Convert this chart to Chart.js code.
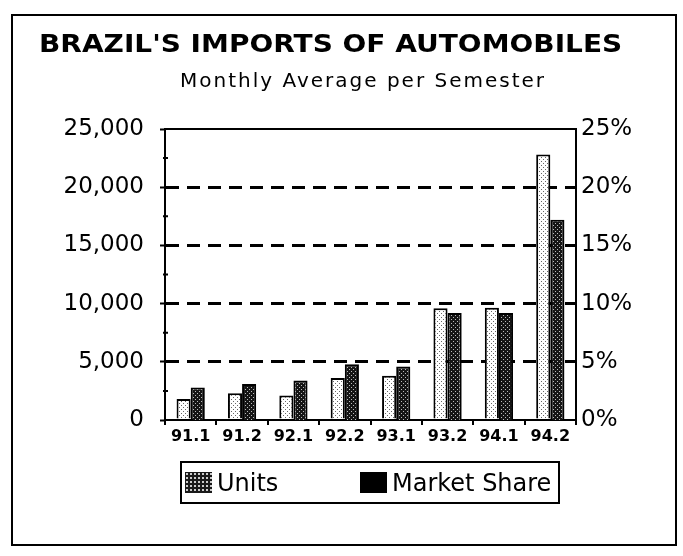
<!DOCTYPE html>
<html>
<head>
<meta charset="utf-8">
<script src="https://cdn.jsdelivr.net/npm/chart.js@4.4.1/dist/chart.umd.min.js"></script>
<style>
  body { margin: 0; background: #fff; }
  #wrap { position: relative; width: 683px; height: 556px; overflow: hidden; }
  #chart { position: absolute; left: 0; top: 0; }
  .frame { position: absolute; left: 11px; top: 14px; width: 666px; height: 532px; border: 2px solid #000; box-sizing: border-box; pointer-events: none; }
  #title { position: absolute; left: 39px; top: 32px; font: bold 28px "DejaVu Sans"; line-height: 28px; white-space: nowrap; color: #000; transform: scaleY(0.88); transform-origin: 0 0; }
  #subtitle { position: absolute; left: 180px; top: 70px; font: 20px "DejaVu Sans"; letter-spacing: 2px; line-height: 20px; white-space: nowrap; color: #000; }
  #legend { position: absolute; left: 180px; top: 461px; width: 380px; height: 43px; border: 2px solid #000; box-sizing: border-box; font: 24px "DejaVu Sans"; color: #000; }
  .item { position: absolute; top: 0; height: 39px; display: flex; align-items: center; white-space: nowrap; }
  .swatch { width: 27px; height: 21px; margin-right: 5px; box-sizing: border-box; }
</style>
</head>
<body>
<div id="wrap">
  <canvas id="chart" width="683" height="556"></canvas>
  <div class="frame"></div>
  <div id="title">BRAZIL'S IMPORTS OF AUTOMOBILES</div>
  <div id="subtitle">Monthly Average per Semester</div>
  <div id="legend">
    <div class="item" style="left:3px"><span class="swatch" id="sw1"></span>Units</div>
    <div class="item" style="left:178px"><span class="swatch" id="sw2"></span>Market Share</div>
  </div>
</div>
<script>
const semesters = ["91.1", "91.2", "92.1", "92.2", "93.1", "93.2", "94.1", "94.2"];
const units = [1800, 2300, 2100, 3600, 3800, 9600, 9650, 22800];
const marketShare = [2.8, 3.1, 3.4, 4.8, 4.6, 9.2, 9.2, 17.2];
const unitTicks = [0, 5000, 10000, 15000, 20000, 25000];
const shareTicks = [0, 5, 10, 15, 20, 25];

// dithered fills, like the scanned print
function makePattern(bg, fg) {
  const c = document.createElement("canvas");
  c.width = 4;
  c.height = 4;
  const g = c.getContext("2d");
  g.fillStyle = bg;
  g.fillRect(0, 0, 4, 4);
  g.fillStyle = fg;
  g.fillRect(1, 1, 1, 1);
  g.fillRect(3, 3, 1, 1);
  return g.createPattern(c, "repeat");
}
const lightFill = makePattern("#ffffff", "#666666");
const darkFill = makePattern("#151515", "#bbbbbb");

const sw1 = document.getElementById("sw1");
sw1.style.backgroundColor = "#1a1a1a";
sw1.style.backgroundImage = "radial-gradient(#ccc 0.8px, transparent 1.2px)";
sw1.style.backgroundSize = "4px 4px";
document.getElementById("sw2").style.background = "#000";

// top border of the plot, plus the small minor ticks on the left axis
const frameLines = {
  id: "frameLines",
  afterDraw(chart) {
    const { ctx, chartArea } = chart;
    const y = chart.scales.y;
    const y1 = chart.scales.y1;
    ctx.save();
    ctx.strokeStyle = "#000";
    ctx.lineWidth = 2;
    ctx.beginPath();
    ctx.moveTo(chartArea.left, chartArea.top);
    ctx.lineTo(chartArea.right, chartArea.top);
    for (let i = 0; i < unitTicks.length - 1; i++) {
      const py = y.getPixelForValue((unitTicks[i] + unitTicks[i + 1]) / 2);
      ctx.moveTo(chartArea.left - 2, py);
      ctx.lineTo(chartArea.left + 3, py);
    }
    shareTicks.forEach((v) => {
      const py = y1.getPixelForValue(v);
      ctx.moveTo(chartArea.right - 5, py);
      ctx.lineTo(chartArea.right, py);
    });
    ctx.stroke();
    ctx.restore();
  },
};

const tickFont = { family: "DejaVu Sans", size: 23 };

const config = {
  type: "bar",
  data: {
    labels: semesters,
    datasets: [
      {
        label: "Units",
        data: units,
        yAxisID: "y",
        backgroundColor: lightFill,
        borderColor: "#000",
        borderWidth: 2,
        borderSkipped: "bottom",
      },
      {
        label: "Market Share",
        data: marketShare,
        yAxisID: "y1",
        backgroundColor: darkFill,
        borderColor: "#000",
        borderWidth: 2,
        borderSkipped: "bottom",
      },
    ],
  },
  options: {
    responsive: false,
    animation: false,
    devicePixelRatio: 1,
    categoryPercentage: 0.55,
    barPercentage: 1,
    layout: { padding: { left: 20, right: 20, top: 129, bottom: 20 } },
    plugins: {
      legend: { display: false },
      tooltip: { enabled: false },
    },
    scales: {
      x: {
        grid: { drawOnChartArea: false, color: "#000", lineWidth: 2, tickLength: 5 },
        border: { color: "#000", width: 2 },
        ticks: { color: "#000", padding: 2, font: { family: "DejaVu Sans", size: 16, weight: "bold" } },
        afterFit(scale) {
          scale.height = 116;
        },
      },
      y: {
        position: "left",
        min: 0,
        max: 25000,
        afterBuildTicks(scale) {
          scale.ticks = unitTicks.map((v) => ({ value: v }));
        },
        ticks: {
          color: "#000",
          padding: 16,
          font: tickFont,
          callback: (v) => v.toLocaleString("en-US"),
        },
        grid: {
          lineWidth: 3,
          tickLength: 5,
          tickWidth: 2,
          tickColor: "#000",
          color: (ctx) => (ctx.tick && (ctx.tick.value === 0 || ctx.tick.value === 25000) ? "rgba(0,0,0,0)" : "#000"),
        },
        border: { color: "#000", width: 2, dash: [13, 8] },
        afterFit(scale) {
          scale.width = 145;
        },
      },
      y1: {
        position: "right",
        min: 0,
        max: 25,
        afterBuildTicks(scale) {
          scale.ticks = shareTicks.map((v) => ({ value: v }));
        },
        ticks: {
          color: "#000",
          padding: 5,
          font: tickFont,
          callback: (v) => v + "%",
        },
        grid: { display: false, drawTicks: false },
        border: { color: "#000", width: 2 },
        afterFit(scale) {
          scale.width = 87;
        },
      },
    },
  },
  plugins: [frameLines],
};

const myChart = new Chart(document.getElementById("chart"), config);
</script>
</body>
</html>
